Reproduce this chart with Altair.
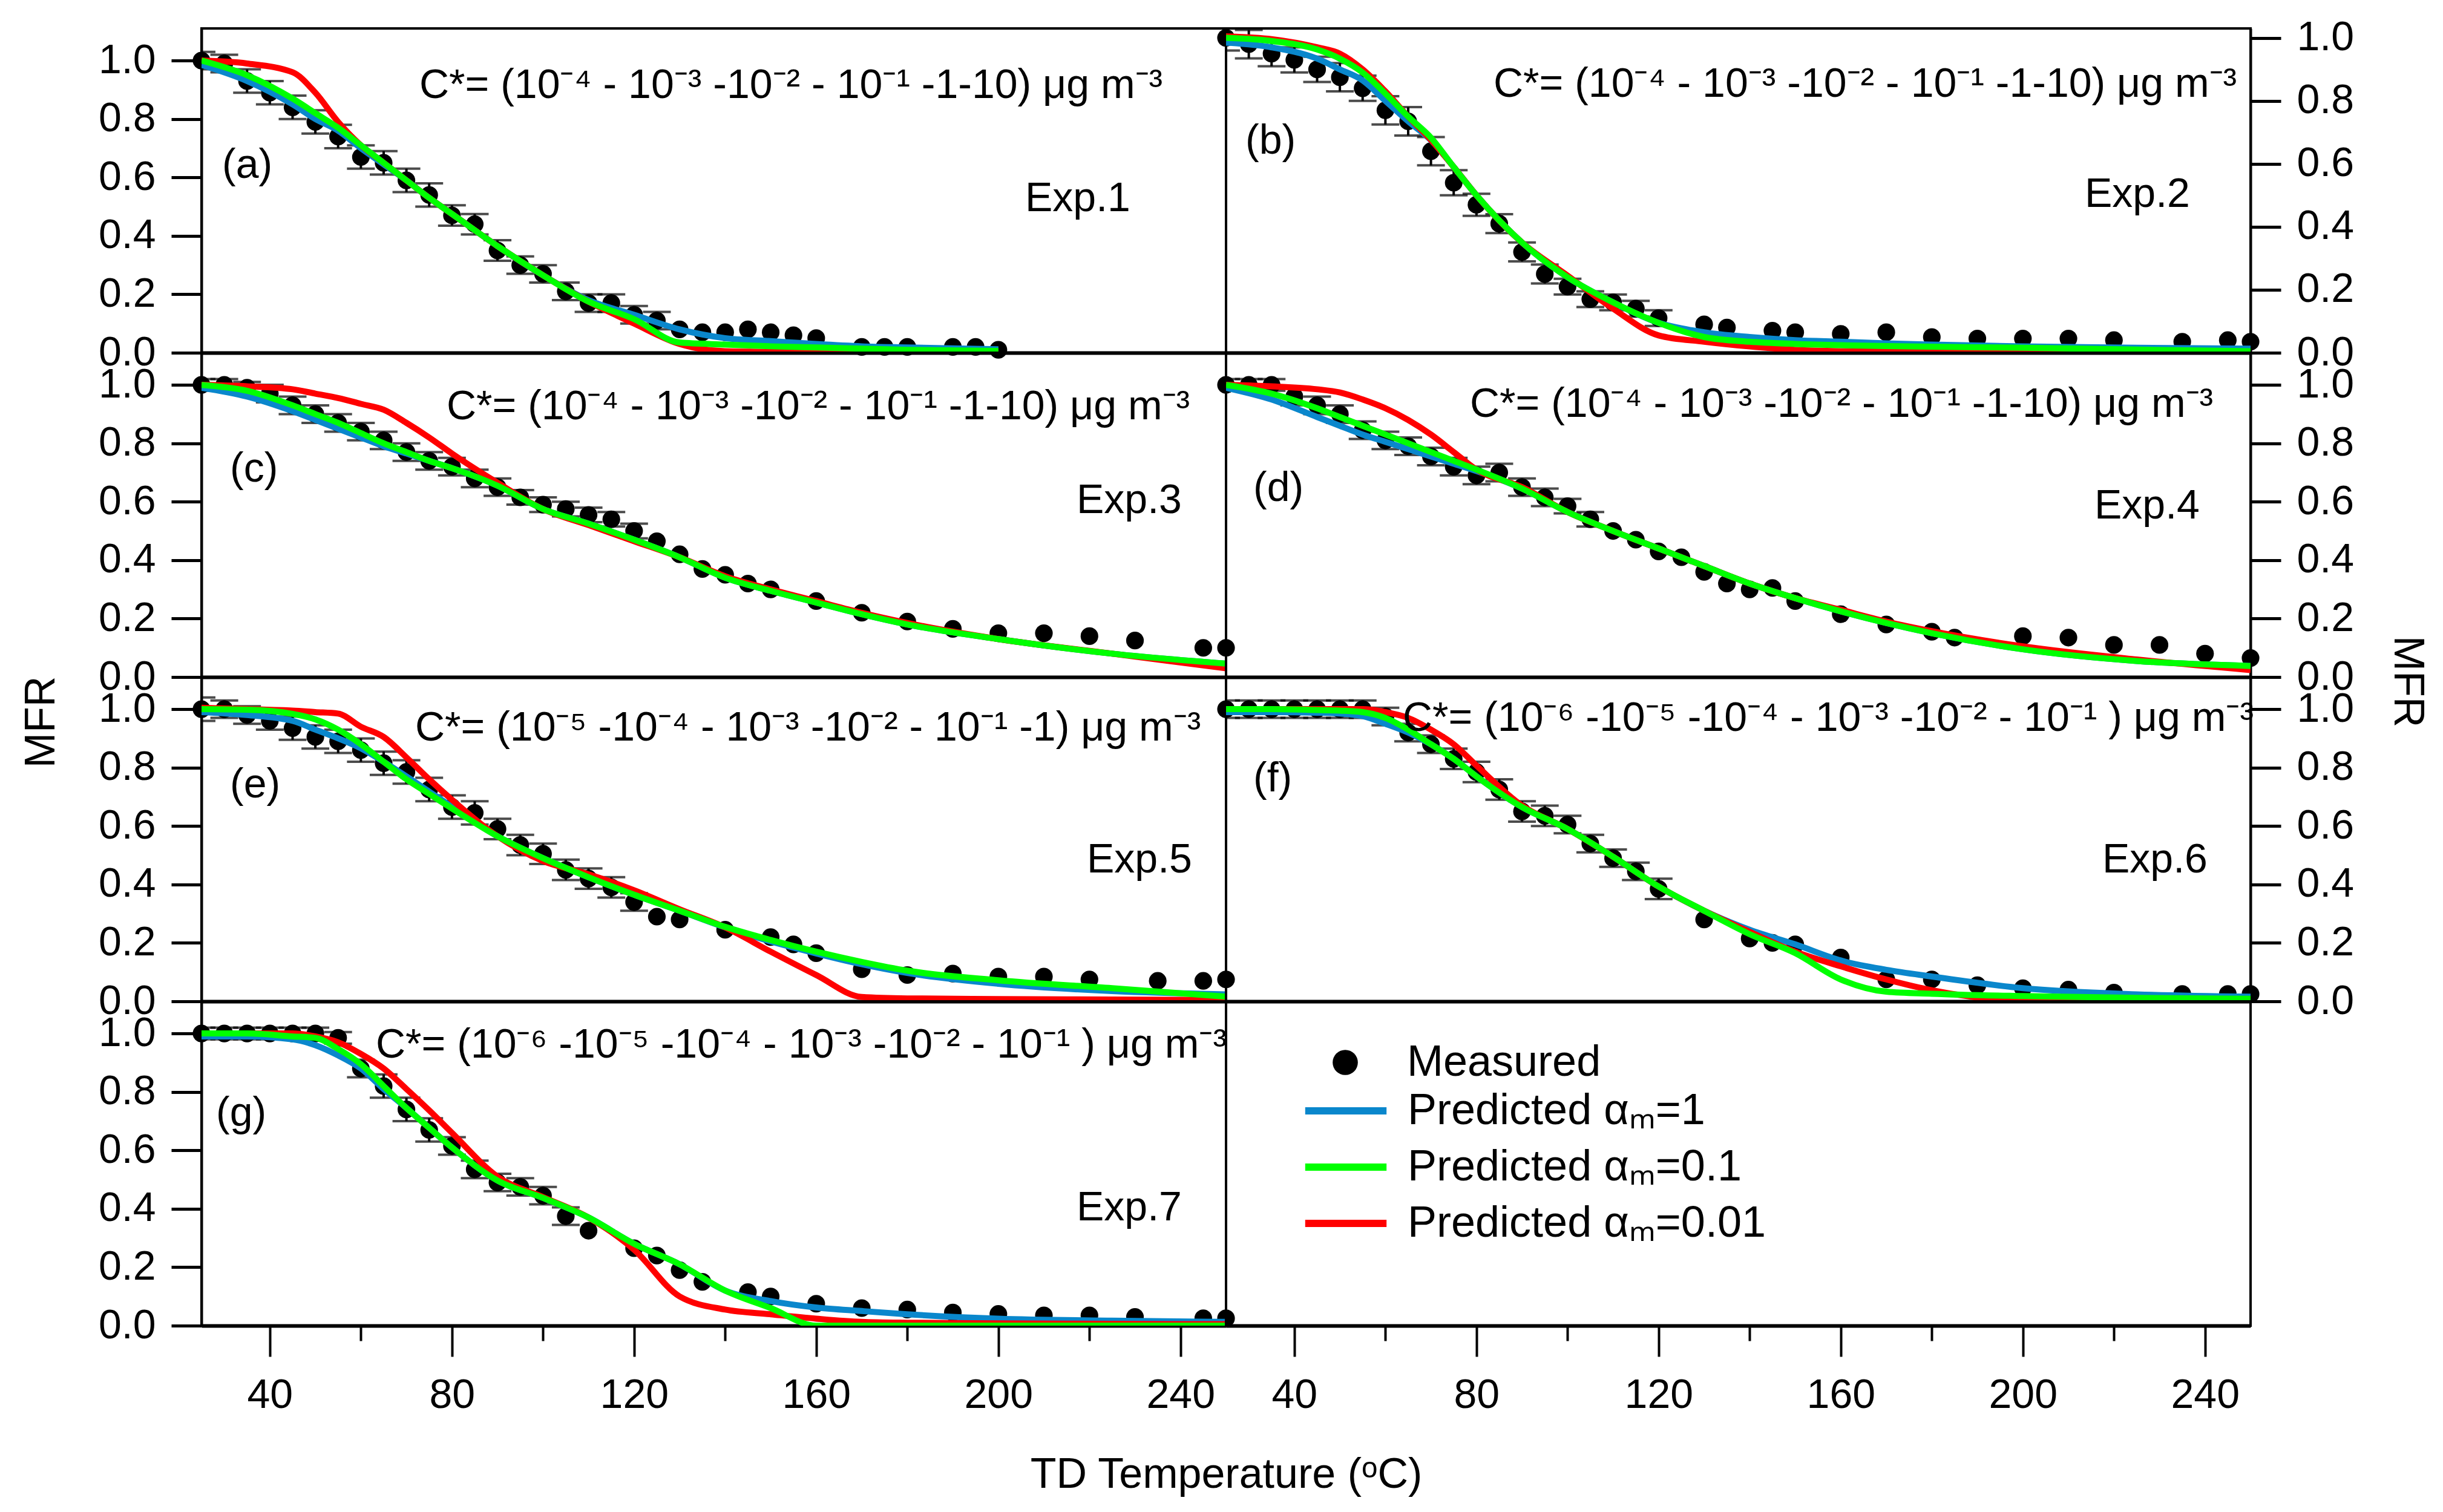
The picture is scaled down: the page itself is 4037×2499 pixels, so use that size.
import altair as alt
import pandas as pd

FONT = "Liberation Sans"

SERIES = ["Predicted αₘ=1", "Predicted αₘ=0.1", "Predicted αₘ=0.01"]
COLORS = ["#0a87cc", "#00ff00", "#ff0000"]

CSTAR_1 = "C*= (10⁻⁴ - 10⁻³ -10⁻² - 10⁻¹ -1-10) μg m⁻³"
CSTAR_5 = "C*= (10⁻⁵ -10⁻⁴ - 10⁻³ -10⁻² - 10⁻¹ -1) μg m⁻³"
CSTAR_6 = "C*= (10⁻⁶ -10⁻⁵ -10⁻⁴ - 10⁻³ -10⁻² - 10⁻¹ ) μg m⁻³"

Y_TICKS = [0, 0.2, 0.4, 0.6, 0.8, 1.0]
X_MAJOR = [40, 80, 120, 160, 200, 240]
X_MINOR = [60, 100, 140, 180, 220]

# temperature grid of the model curves
GRID = [25, 35, 45, 50, 55, 60, 65, 70, 75, 80, 90, 100, 110, 120, 130, 140,
        150, 160, 170, 180, 200, 225, 250]
GRID_A = [25, 35, 45, 50, 55, 60, 65, 70, 75, 80, 90, 100, 110, 120, 130, 140,
          150, 160, 170, 180, 200]

# ---- Exp.1
T_A = [25, 30, 35, 40, 45, 50, 55, 60, 65, 70, 75, 80, 85, 90, 95, 100, 105, 110, 115, 120,
       125, 130, 135, 140, 145, 150, 155, 160, 170, 175, 180, 190, 195, 200]
MFR_A = [1.0, 0.99, 0.93, 0.89, 0.84, 0.79, 0.74, 0.67, 0.65, 0.59, 0.54, 0.47, 0.44, 0.35, 0.30,
         0.27, 0.21, 0.17, 0.17, 0.13, 0.11, 0.08, 0.07, 0.07, 0.08, 0.07, 0.06, 0.05, 0.02, 0.02,
         0.02, 0.02, 0.02, 0.01]
ERR_A = [0.03, 0.03, 0.04, 0.04, 0.04, 0.04, 0.04, 0.04, 0.04, 0.04, 0.04, 0.035, 0.035, 0.035,
         0.03, 0.03, 0.03, 0.03, 0.03, 0.03, 0.03, 0, 0, 0, 0, 0, 0, 0, 0, 0, 0, 0, 0, 0]
BLUE_A = [0.985, 0.93, 0.85, 0.80, 0.76, 0.70, 0.645, 0.59, 0.53, 0.475, 0.365, 0.265, 0.18,
          0.13, 0.08, 0.05, 0.04, 0.03, 0.022, 0.018, 0.012]
GREEN_A = [1.0, 0.95, 0.87, 0.82, 0.77, 0.71, 0.65, 0.59, 0.53, 0.475, 0.365, 0.265, 0.175,
           0.115, 0.035, 0.028, 0.022, 0.018, 0.014, 0.01, 0.006]
RED_A = [1.0, 0.99, 0.96, 0.89, 0.79, 0.71, 0.65, 0.59, 0.53, 0.475, 0.365, 0.265, 0.175,
         0.10, 0.03, 0.005, 0.003, 0.002, 0.002, 0.002, 0.002]

# ---- Exp.2
T_B = [25, 30, 35, 40, 45, 50, 55, 60, 65, 70, 75, 80, 85, 90, 95, 100, 105, 110, 115, 120,
       130, 135, 145, 150, 160, 170, 180, 190, 200, 210, 220, 235, 245, 250]
MFR_B = [1.0, 0.98, 0.95, 0.93, 0.90, 0.875, 0.84, 0.77, 0.735, 0.64, 0.54, 0.47, 0.41, 0.32,
         0.25, 0.21, 0.17, 0.16, 0.14, 0.11, 0.09, 0.08, 0.07, 0.065, 0.06, 0.065, 0.05, 0.045,
         0.045, 0.045, 0.04, 0.035, 0.04, 0.035]
ERR_B = [0.04, 0.045, 0.04, 0.04, 0.04, 0.045, 0.04, 0.045, 0.045, 0.045, 0.04, 0.035, 0.03,
         0.03, 0.03, 0.025, 0.025, 0.025, 0.025, 0.025, 0, 0, 0, 0, 0, 0, 0, 0, 0, 0, 0, 0, 0, 0]
BLUE_B = [0.985, 0.97, 0.934, 0.90, 0.865, 0.80, 0.735, 0.675, 0.59, 0.50, 0.35, 0.24, 0.16,
          0.095, 0.065, 0.05, 0.04, 0.035, 0.03, 0.026, 0.02, 0.016, 0.013]
GREEN_B = [1.0, 0.99, 0.963, 0.934, 0.89, 0.823, 0.75, 0.683, 0.59, 0.50, 0.35, 0.24, 0.16,
           0.095, 0.05, 0.035, 0.028, 0.024, 0.021, 0.019, 0.016, 0.01, 0.005]
RED_B = [1.005, 0.996, 0.97, 0.95, 0.90, 0.83, 0.75, 0.676, 0.59, 0.50, 0.35, 0.245, 0.14,
         0.055, 0.035, 0.02, 0.009, 0.005, 0.004, 0.004, 0.003, 0.003, 0.003]

# ---- Exp.3
T_C = [25, 30, 35, 40, 45, 50, 55, 60, 65, 70, 75, 80, 85, 90, 95, 100, 105, 110, 115, 120,
       125, 130, 135, 140, 145, 150, 160, 170, 180, 190, 200, 210, 220, 230, 245, 250]
MFR_C = [1.0, 1.0, 0.99, 0.97, 0.93, 0.90, 0.87, 0.84, 0.81, 0.77, 0.74, 0.72, 0.68, 0.65,
         0.615, 0.59, 0.575, 0.555, 0.54, 0.50, 0.465, 0.42, 0.37, 0.35, 0.32, 0.30, 0.26, 0.22,
         0.19, 0.165, 0.15, 0.15, 0.14, 0.125, 0.10, 0.10]
ERR_C = [0.02, 0.02, 0.02, 0.03, 0.03, 0.03, 0.03, 0.03, 0.03, 0.03, 0.03, 0.03, 0.03, 0.03,
         0.025, 0.025, 0.025, 0.025, 0.025, 0.025, 0, 0, 0, 0, 0, 0, 0, 0, 0, 0, 0, 0, 0, 0, 0, 0]
BLUE_C = [0.99, 0.96, 0.91, 0.88, 0.85, 0.82, 0.79, 0.765, 0.74, 0.715, 0.655, 0.575, 0.525,
          0.47, 0.41, 0.34, 0.295, 0.255, 0.215, 0.18, 0.13, 0.08, 0.046]
GREEN_C = [1.0, 0.98, 0.93, 0.90, 0.87, 0.835, 0.80, 0.77, 0.74, 0.715, 0.655, 0.575, 0.525,
           0.47, 0.41, 0.34, 0.295, 0.255, 0.215, 0.18, 0.13, 0.08, 0.046]
RED_C = [1.0, 0.995, 0.985, 0.97, 0.955, 0.935, 0.915, 0.87, 0.82, 0.765, 0.665, 0.575, 0.52,
         0.465, 0.41, 0.345, 0.30, 0.26, 0.22, 0.185, 0.13, 0.08, 0.03]

# ---- Exp.4
T_D = [25, 30, 35, 40, 45, 50, 55, 60, 65, 70, 75, 80, 85, 90, 95, 100, 105, 110, 115, 120,
       125, 130, 135, 140, 145, 150, 160, 170, 180, 185, 200, 210, 220, 230, 240, 250]
MFR_D = [1.0, 1.0, 1.0, 0.96, 0.93, 0.90, 0.845, 0.81, 0.79, 0.755, 0.72, 0.69, 0.70, 0.65,
         0.615, 0.585, 0.54, 0.50, 0.47, 0.43, 0.41, 0.36, 0.32, 0.30, 0.305, 0.26, 0.215, 0.18,
         0.155, 0.135, 0.14, 0.135, 0.11, 0.11, 0.08, 0.065]
ERR_D = [0.02, 0.02, 0.02, 0.03, 0.03, 0.03, 0.03, 0.03, 0.03, 0.03, 0.03, 0.03, 0.03, 0.03,
         0.03, 0.025, 0.025, 0, 0, 0, 0, 0, 0, 0, 0, 0, 0, 0, 0, 0, 0, 0, 0, 0, 0, 0]
BLUE_D = [0.99, 0.95, 0.89, 0.86, 0.83, 0.805, 0.78, 0.755, 0.73, 0.705, 0.645, 0.565, 0.50,
          0.44, 0.38, 0.32, 0.27, 0.225, 0.185, 0.15, 0.095, 0.055, 0.038]
GREEN_D = [1.0, 0.97, 0.92, 0.89, 0.86, 0.83, 0.80, 0.77, 0.74, 0.71, 0.645, 0.565, 0.50,
           0.44, 0.38, 0.32, 0.27, 0.225, 0.185, 0.15, 0.095, 0.055, 0.038]
RED_D = [1.0, 0.995, 0.985, 0.974, 0.95, 0.92, 0.88, 0.83, 0.77, 0.71, 0.65, 0.565, 0.50,
         0.44, 0.38, 0.32, 0.27, 0.23, 0.19, 0.157, 0.105, 0.06, 0.024]

# ---- Exp.5
T_E = [25, 30, 35, 40, 45, 50, 55, 60, 65, 70, 75, 80, 85, 90, 95, 100, 105, 110, 115, 120,
       125, 130, 140, 150, 155, 160, 170, 180, 190, 200, 210, 220, 235, 245, 250]
MFR_E = [1.0, 1.0, 0.98, 0.96, 0.935, 0.905, 0.89, 0.86, 0.815, 0.785, 0.725, 0.665, 0.645,
         0.59, 0.535, 0.505, 0.45, 0.42, 0.39, 0.34, 0.29, 0.28, 0.245, 0.22, 0.195, 0.165,
         0.11, 0.09, 0.095, 0.085, 0.085, 0.075, 0.07, 0.07, 0.075]
ERR_E = [0.04, 0.03, 0.03, 0.03, 0.04, 0.04, 0.04, 0.04, 0.04, 0.04, 0.04, 0.04, 0.04, 0.035,
         0.035, 0.035, 0.035, 0.035, 0.035, 0.03, 0, 0, 0, 0, 0, 0, 0, 0, 0, 0, 0, 0, 0, 0, 0]
BLUE_E = [0.99, 0.98, 0.96, 0.93, 0.90, 0.866, 0.82, 0.77, 0.718, 0.666, 0.565, 0.49, 0.425,
          0.365, 0.31, 0.253, 0.205, 0.164, 0.127, 0.097, 0.06, 0.035, 0.024]
GREEN_E = [1.0, 0.998, 0.984, 0.965, 0.93, 0.88, 0.82, 0.76, 0.71, 0.66, 0.565, 0.49, 0.425,
           0.365, 0.31, 0.255, 0.21, 0.17, 0.135, 0.105, 0.072, 0.045, 0.016]
RED_E = [1.005, 1.0, 0.995, 0.99, 0.985, 0.94, 0.905, 0.835, 0.76, 0.69, 0.565, 0.48, 0.435,
         0.38, 0.315, 0.253, 0.17, 0.09, 0.015, 0.01, 0.008, 0.006, 0.005]

# ---- Exp.6
T_F = [25, 30, 35, 40, 45, 50, 55, 60, 65, 70, 75, 80, 85, 90, 95, 100, 105, 110, 115, 120,
       130, 140, 145, 150, 160, 170, 180, 190, 200, 210, 220, 235, 245, 250]
MFR_F = [1.0, 1.0, 1.0, 1.0, 1.0, 1.0, 1.0, 0.975, 0.92, 0.88, 0.83, 0.785, 0.725, 0.65, 0.635,
         0.605, 0.54, 0.49, 0.445, 0.385, 0.28, 0.215, 0.20, 0.195, 0.15, 0.075, 0.075, 0.055,
         0.045, 0.04, 0.03, 0.025, 0.025, 0.025]
ERR_F = [0.03, 0.03, 0.03, 0.03, 0.03, 0.03, 0.03, 0.03, 0.03, 0.03, 0.035, 0.035, 0.035,
         0.035, 0.035, 0.03, 0.03, 0.03, 0.03, 0.035, 0, 0, 0, 0, 0, 0, 0, 0, 0, 0, 0, 0, 0, 0]
BLUE_F = [0.99, 0.99, 0.988, 0.985, 0.976, 0.95, 0.92, 0.88, 0.83, 0.77, 0.665, 0.59, 0.495,
          0.393, 0.31, 0.245, 0.195, 0.14, 0.108, 0.085, 0.045, 0.024, 0.016]
GREEN_F = [1.0, 1.0, 0.997, 0.995, 0.99, 0.97, 0.93, 0.88, 0.83, 0.77, 0.665, 0.59, 0.495,
           0.393, 0.31, 0.23, 0.165, 0.075, 0.033, 0.026, 0.018, 0.012, 0.009]
RED_F = [1.0, 1.0, 1.0, 1.0, 1.0, 0.99, 0.97, 0.93, 0.88, 0.807, 0.67, 0.59, 0.495, 0.393,
         0.31, 0.238, 0.17, 0.12, 0.075, 0.038, 0.003, 0.002, 0.002]

# ---- Exp.7
T_G = [25, 30, 35, 40, 45, 50, 55, 60, 65, 70, 75, 80, 85, 90, 95, 100, 105, 110, 120, 125,
       130, 135, 145, 150, 160, 170, 180, 190, 200, 210, 220, 230, 245, 250]
MFR_G = [1.0, 1.0, 1.0, 1.0, 1.0, 1.0, 0.985, 0.88, 0.82, 0.74, 0.67, 0.615, 0.535, 0.49,
         0.475, 0.445, 0.375, 0.325, 0.265, 0.24, 0.19, 0.15, 0.115, 0.10, 0.075, 0.06, 0.055,
         0.045, 0.04, 0.035, 0.035, 0.03, 0.025, 0.025]
ERR_G = [0.02, 0.02, 0.02, 0.02, 0.02, 0.02, 0.02, 0.03, 0.04, 0.04, 0.04, 0.03, 0.03, 0.03,
         0.03, 0.03, 0.03, 0, 0, 0, 0, 0, 0, 0, 0, 0, 0, 0, 0, 0, 0, 0, 0, 0]
BLUE_G = [0.99, 0.99, 0.98, 0.96, 0.925, 0.88, 0.81, 0.745, 0.677, 0.61, 0.497, 0.437, 0.37,
          0.28, 0.21, 0.12, 0.084, 0.062, 0.05, 0.039, 0.024, 0.017, 0.013]
GREEN_G = [1.0, 1.0, 0.99, 0.985, 0.947, 0.895, 0.82, 0.745, 0.677, 0.61, 0.497, 0.437, 0.37,
           0.28, 0.21, 0.12, 0.06, 0.0, 0.0, 0.0, 0.0, 0.0, 0.0]
RED_G = [1.0, 1.0, 1.0, 0.99, 0.97, 0.93, 0.88, 0.81, 0.737, 0.66, 0.51, 0.44, 0.37, 0.26,
         0.10, 0.055, 0.039, 0.024, 0.013, 0.01, 0.008, 0.006, 0.005]

W, H = 1693, 536
FS = 68

LEG_PTS = alt.Legend(orient="none", legendX=1854, legendY=1673, direction="vertical",
                     title=None, symbolType="circle", symbolSize=1735,
                     symbolFillColor="black", symbolStrokeColor="black",
                     labelFont=FONT, labelFontSize=72, labelColor="black",
                     labelOffset=66, labelLimit=2000)
LEG_LINES = alt.Legend(orient="none", legendX=1855, legendY=1753, direction="vertical",
                       title=None, symbolType="M-2.8,0H2.8", symbolSize=2304,
                       symbolStrokeWidth=12, labelFont=FONT, labelFontSize=72,
                       labelColor="black", labelOffset=66, labelLimit=2000, rowPadding=21)


def y_axis(side, title=None, tx=0, ty=0, angle=270):
    kw = dict(orient=side, values=Y_TICKS, format=".1f", tickSize=50, tickWidth=5,
              tickColor="black", domainColor="black", domainWidth=4, labelFont=FONT,
              labelFontSize=FS, labelColor="black", labelPadding=26, labelOverlap=False,
              grid=False)
    if title:
        kw.update(title=title, titleX=tx, titleY=ty, titleAngle=angle, titleFont=FONT,
                  titleFontSize=70, titleFontWeight="normal", titleColor="black",
                  titleBaseline="middle", titleAlign="center")
    else:
        kw["title"] = None
    return alt.Axis(**kw)


X_PLAIN = alt.Axis(orient="bottom", labels=False, ticks=False, domainColor="black",
                   domainWidth=6, grid=False, title=None)


def x_major(title=None):
    kw = dict(orient="bottom", values=X_MAJOR, format="d", tickSize=51, tickWidth=4,
              tickColor="black", domainColor="black", domainWidth=6, labelFont=FONT,
              labelFontSize=FS, labelColor="black", labelPadding=30, labelFlush=False,
              grid=False)
    if title:
        kw.update(title=title, titleX=W, titleY=267, titleAlign="center",
                  titleBaseline="alphabetic", titleFont=FONT, titleFontSize=70,
                  titleFontWeight="normal", titleColor="black")
    else:
        kw["title"] = None
    return alt.Axis(**kw)


X_MINOR_AXIS = alt.Axis(orient="bottom", values=X_MINOR, labels=False, tickSize=25,
                        tickWidth=4, tickColor="black", domain=False, grid=False, title=None)


def note(text, x, y):
    return alt.Chart(pd.DataFrame({"txt": [text]})).mark_text(
        font=FONT, fontSize=FS, color="black", align="left", baseline="alphabetic"
    ).encode(text="txt:N", x=alt.value(x), y=alt.value(y))


def panel(t, mfr, err, grid, blue, green, red, ymax, side, cstar, tag, exp, pos,
          bottom=False, x_title=None, yaxis=None):
    xs = alt.Scale(domain=[25, 250], nice=False, zero=False)
    ys = alt.Scale(domain=[0, ymax], nice=False, zero=False)
    yax = yaxis if yaxis is not None else y_axis(side)
    xax = x_major(x_title) if bottom else X_PLAIN
    X = alt.X("t:Q", scale=xs, axis=xax)

    pts = pd.DataFrame({"t": t, "mfr": mfr, "err": err})
    pts["kind"] = "Measured"
    bars = pts[pts["err"] > 0].copy()
    bars["lo"] = bars["mfr"] - bars["err"]
    bars["hi"] = bars["mfr"] + bars["err"]
    caps = pd.concat([bars.assign(cap=bars["lo"]), bars.assign(cap=bars["hi"])])

    rules = alt.Chart(bars).mark_rule(color="black", strokeWidth=4, clip=True).encode(
        x=X, y=alt.Y("lo:Q", scale=ys, axis=yax), y2="hi:Q")
    ticks = alt.Chart(caps).mark_tick(orient="horizontal", color="black", size=46,
                                      thickness=4, clip=True).encode(
        x=X, y=alt.Y("cap:Q", scale=ys, axis=yax))
    dots = alt.Chart(pts).mark_point(filled=True, color="black", size=850, opacity=1).encode(
        x=X, y=alt.Y("mfr:Q", scale=ys, axis=yax),
        shape=alt.Shape("kind:N", scale=alt.Scale(domain=["Measured"], range=["circle"]),
                        legend=LEG_PTS))

    layers = [rules, ticks, dots]
    curves = {SERIES[0]: blue, SERIES[1]: green, SERIES[2]: red}
    for name in [SERIES[0], SERIES[2], SERIES[1]]:  # blue, red, green on top
        df = pd.DataFrame({"t": grid, "mfr": curves[name], "series": name})
        layers.append(alt.Chart(df).mark_line(strokeWidth=10, interpolate="monotone",
                                              clip=True).encode(
            x=X, y=alt.Y("mfr:Q", scale=ys, axis=yax),
            color=alt.Color("series:N", scale=alt.Scale(domain=SERIES, range=COLORS),
                            legend=LEG_LINES)))

    layers += [note(cstar, *pos[0]), note(tag, *pos[1]), note(exp, *pos[2])]
    main = alt.layer(*layers)
    if bottom:
        minor = alt.Chart(pts).mark_point(opacity=0).encode(
            x=alt.X("t:Q", scale=xs, axis=X_MINOR_AXIS),
            y=alt.Y("mfr:Q", scale=ys, axis=yax))
        return alt.layer(main, minor).resolve_axis(x="independent").properties(
            width=W, height=H)
    return main.properties(width=W, height=H)


cell_a = panel(T_A, MFR_A, ERR_A, GRID_A, BLUE_A, GREEN_A, RED_A, 1.11, "left", CSTAR_1,
               "(a)", "Exp.1", [(360, 115), (34, 247), (1361, 302)])
cell_b = panel(T_B, MFR_B, ERR_B, GRID, BLUE_B, GREEN_B, RED_B, 1.03, "right", CSTAR_1,
               "(b)", "Exp.2", [(442, 113), (32, 207), (1419, 295)])
cell_c = panel(T_C, MFR_C, ERR_C, GRID, BLUE_C, GREEN_C, RED_C, 1.11, "left", CSTAR_1,
               "(c)", "Exp.3", [(405, 110), (47, 213), (1446, 265)])
cell_d = panel(T_D, MFR_D, ERR_D, GRID, BLUE_D, GREEN_D, RED_D, 1.11, "right", CSTAR_1,
               "(d)", "Exp.4", [(403, 106), (45, 245), (1435, 274)])
cell_e = panel(T_E, MFR_E, ERR_E, GRID, BLUE_E, GREEN_E, RED_E, 1.11, "left", CSTAR_5,
               "(e)", "Exp.5", [(353, 105), (47, 199), (1463, 323)],
               yaxis=y_axis("left", "MFR", -265, 74, 270))
cell_f = panel(T_F, MFR_F, ERR_F, GRID, BLUE_F, GREEN_F, RED_F, 1.11, "right", CSTAR_6,
               "(f)", "Exp.6", [(292, 89), (45, 189), (1448, 323)],
               yaxis=y_axis("right", "MFR", 258, 7, 90))
cell_g = panel(T_G, MFR_G, ERR_G, GRID, BLUE_G, GREEN_G, RED_G, 1.11, "left", CSTAR_6,
               "(g)", "Exp.7", [(288, 93), (24, 206), (1446, 362)],
               bottom=True, x_title="TD Temperature (ᵒC)")

# empty bottom-right cell that carries the legend and the second x axis
empty = pd.DataFrame({"t": pd.Series([], dtype=float), "mfr": pd.Series([], dtype=float)})
xs_leg = alt.Scale(domain=[25, 250], nice=False, zero=False)
ys_leg = alt.Scale(domain=[0, 1.11], nice=False, zero=False)
leg_major = alt.Chart(empty).mark_point(opacity=0).encode(
    x=alt.X("t:Q", scale=xs_leg, axis=x_major()),
    y=alt.Y("mfr:Q", scale=ys_leg, axis=None))
leg_minor = alt.Chart(empty).mark_point(opacity=0).encode(
    x=alt.X("t:Q", scale=xs_leg, axis=X_MINOR_AXIS),
    y=alt.Y("mfr:Q", scale=ys_leg, axis=None))
cell_h = alt.layer(leg_major, leg_minor).resolve_axis(x="independent").properties(
    width=W, height=H)

chart = alt.concat(cell_a, cell_b, cell_c, cell_d, cell_e, cell_f, cell_g, cell_h,
                   columns=2, spacing=0, bounds="flush").properties(
    padding={"left": 23, "top": 18, "right": 12, "bottom": 5}, background="white"
).configure_view(stroke="black", strokeWidth=4)

chart.save("out.html", embed_options={"renderer": "svg", "actions": False})
